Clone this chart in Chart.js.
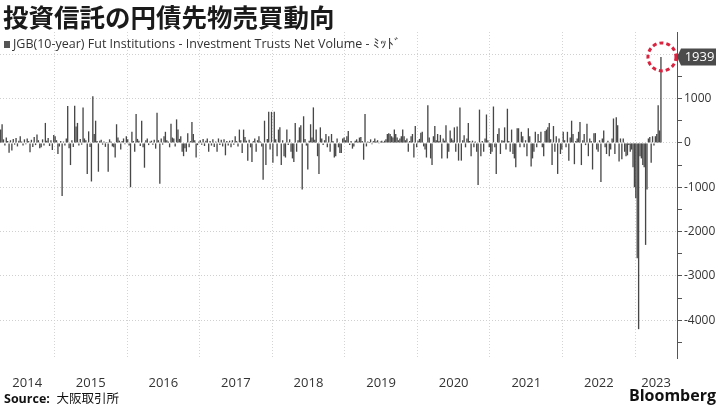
<!DOCTYPE html>
<html>
<head>
<meta charset="utf-8">
<script src="https://cdn.jsdelivr.net/npm/chart.js@4.4.1/dist/chart.umd.min.js"></script>
<style>
  html, body { margin: 0; padding: 0; background: #fff; }
  #wrap { position: relative; width: 720px; height: 405px; overflow: hidden; font-family: 'Open Sans', sans-serif; }
  #chart { position: absolute; left: 0; top: 0; }
  .title { position: absolute; left: 3px; top: -3px; font: 700 25.5px 'Noto Sans CJK JP', sans-serif; color: #1a1a1a; white-space: nowrap; }
  .legend { position: absolute; left: 4px; top: 35px; font-size: 12.5px; color: #333; white-space: nowrap; }
  .legend i { display: inline-block; width: 6px; height: 7px; background: #555; margin-right: 3px; }
  .source { position: absolute; left: 4px; top: 388px; font-size: 12.5px; color: #111; white-space: nowrap; }
  .source b { font-weight: 700; }
  .source span { font-family: 'Noto Sans CJK JP', sans-serif; }
  .brand { position: absolute; right: 4px; top: 384px; font: 700 16px 'Open Sans', sans-serif; color: #111; }
</style>
</head>
<body>
<div id="wrap">
  <canvas id="chart" width="720" height="405"></canvas>
  <div class="title">投資信託の円債先物売買動向</div>
  <div class="legend"><i></i>JGB(10-year) Fut Institutions - Investment Trusts Net Volume - ﾐｯﾄﾞ</div>
  <div class="source"><b>Source:</b>&nbsp; <span>大阪取引所</span></div>
  <div class="brand">Bloomberg</div>
</div>
<script>
// Weekly net volume (contracts)
const vol2014 = [300, 420, 80, -60, 120, 40, -220, 60, -170, 90, -40, 110, -80, 50, 150, 30, -60, 80, -30, 100,
  40, -210, 70, -90, 130, -50, 190, 60, -120, -100, 80, -60, 450, 50, 110, -70, 60, -160, 180];
const vol2015 = [150, 60, -250, -80, 40, -1200, 30, -60, 100, 830, -120, -500, 60, -90, 840, 370, 450, -60, 90, -40,
  800, 100, 60, -700, 260, -90, -870, 1050, 200, 500, 40, -650, 50, 70, -40, 30, -90, 20, -650, 80,
  30, -80, -100, -330, 420, 120, 50, -150, 40, 100, -30, 150];
const vol2016 = [80, -60, -1000, 250, 40, -200, 650, 90, 50, -70, 500, -100, -560, 60, 100, -50, 30, 50, -40, 70,
  -130, 680, 60, -920, 100, -40, 150, 250, 60, 30, -100, 430, 120, 100, -80, 530, 300, 90, 150, -200,
  -300, -120, -200, 220, -100, 40, 470, 200, 60, -330, -50, 30];
const vol2017 = [60, -40, 90, -70, 50, 100, -200, 40, -60, 80, -90, 30, -200, 100, -50, 70, -80, 80, -280, 40,
  -60, 50, -100, 60, -40, 150, 40, -80, 300, 60, -230, 300, 130, 50, -400, 70, -100, -430, 40, 100,
  -200, 60, 150, 30, -80, -830, 500, -500, 90, 700, -150, 700];
const vol2018 = [-450, 700, 80, -300, 300, 350, -500, 60, -300, -330, 300, -50, 80, -200, -350, -430, 450, -200, 60, 350,
  400, -1050, 600, 90, -60, -600, 50, 420, 120, 800, 70, 300, -300, -700, 350, 100, -50, 60, 200, -100,
  150, -200, 200, 40, -330, -300, 100, -100, -230, -230, 100, 120];
const vol2019 = [60, 150, 270, -50, 40, -130, -80, 50, 80, 30, 120, 130, 40, -380, 650, -80, 30, 20, 80, -30,
  40, 100, 30, 60, -20, 30, 50, 20, 50, 80, 200, 220, 200, 150, 120, 300, 200, 120, 60, 100,
  150, 300, 150, 60, 100, -200, 40, 150, 200, -330, 380, -100];
const vol2020 = [50, 90, 230, 250, -80, -150, -330, 850, 120, -350, -500, 150, 380, 60, 200, 40, 180, -350, 100, 50,
  400, -350, -200, 280, 100, 60, 350, -200, 370, -400, 800, -400, 60, 170, -100, 100, 450, 40, -300, 50,
  -100, 30, -200, -950, 750, -300, 40, -200, 100, 640, 60, -100];
const vol2021 = [-250, -200, 820, -100, -700, 200, 330, -250, 60, 50, 350, -150, 770, 40, -200, 300, -250, -350, -550, 330,
  330, -100, 250, 150, -100, 60, -300, 330, 150, -530, -350, -200, 250, -100, 200, 40, 250, -100, -300, 270,
  300, 350, 450, 80, -500, 380, -200, 150, -700, 100, -250, -150];
const vol2022 = [250, 60, -100, 250, -400, 120, 500, 200, -480, 40, 100, 250, 470, -500, 60, 200, -50, 430, -300, 100,
  40, -600, 220, 220, -150, -200, 60, -880, 100, 280, -100, -250, 50, -300, -150, 100, 550, -250, 580, 400,
  -420, 100, -370, 100, -200, -300, -280, -50, -200, -150, -550, -1000];
const vol2023 = [-1250, -2600, -4200, -300, -350, -500, -550, -2300, -1050, 100, 130, -450, 150, -60, 150, 200, 850, 280, 1939];

const yearLabels = ['2014', '2015', '2016', '2017', '2018', '2019', '2020', '2021', '2022', '2023'];
const yearSeries = [vol2014, vol2015, vol2016, vol2017, vol2018, vol2019, vol2020, vol2021, vol2022, vol2023];
const yTicks = [-4500, -4000, -3500, -3000, -2500, -2000, -1500, -1000, -500, 0, 500, 1000, 1500, 2000];

const volume = [].concat(...yearSeries);
const latestValue = volume[volume.length - 1];

// index where each year begins, used for the year gridlines and labels
const yearStarts = [];
let acc = 0;
yearSeries.forEach(s => { yearStarts.push(acc - 0.5); acc += s.length; });
const xMin = -0.5;
const xMax = volume.length + 10.5;
const yearEdges = yearStarts.concat([xMax]);
const yearMids = yearLabels.map((_, i) => (Math.max(yearEdges[i], xMin) + yearEdges[i + 1]) / 2);

// drop the label padding chart.js reserves so the plot runs edge to edge
function noPad(axis) {
    axis.paddingLeft = 0;
    axis.paddingRight = 0;
    axis.paddingTop = 0;
    axis.paddingBottom = 0;
}

const markerPlugin = {
    id: 'marker',
    afterDraw(chart) {
        const { ctx, chartArea, scales: { x, y } } = chart;
        const px = x.getPixelForValue(volume.length - 1);
        const py = y.getPixelForValue(latestValue);

        ctx.save();
        // dashed red ring on latest bar
        ctx.strokeStyle = '#d9233f';
        ctx.lineWidth = 3;
        ctx.setLineDash([4, 3]);
        ctx.beginPath();
        ctx.arc(px + 1, py, 14, 0, Math.PI * 2);
        ctx.stroke();

        // last value tag on the axis
        ctx.setLineDash([]);
        const bx = chartArea.right + 4;
        const br = 716;
        ctx.fillStyle = '#4b4b4b';
        ctx.beginPath();
        ctx.moveTo(chartArea.right, py);
        ctx.lineTo(bx, py - 8.5);
        ctx.lineTo(br, py - 8.5);
        ctx.lineTo(br, py + 8.5);
        ctx.lineTo(bx, py + 8.5);
        ctx.closePath();
        ctx.fill();
        ctx.fillStyle = '#fff';
        ctx.font = '13px "Open Sans"';
        ctx.textAlign = 'center';
        ctx.textBaseline = 'middle';
        ctx.fillText(String(latestValue), (bx + br) / 2 + 1, py + 0.5);
        ctx.restore();
    }
};

new Chart(document.getElementById('chart'), {
    type: 'bar',
    data: {
        datasets: [{
            data: volume.map((v, i) => ({ x: i, y: v })),
            backgroundColor: '#474747',
            borderWidth: 0,
            barPercentage: 0.95,
            categoryPercentage: 1,
            xAxisID: 'x',
            yAxisID: 'y'
        }]
    },
    options: {
        responsive: false,
        animation: false,
        layout: { padding: { top: 32, left: 0, right: 0, bottom: 0 } },
        plugins: {
            legend: { display: false },
            tooltip: { enabled: false }
        },
        scales: {
            x: {
                type: 'linear',
                position: 'bottom',
                offset: false,
                min: xMin,
                max: xMax,
                afterBuildTicks: axis => { axis.ticks = yearStarts.slice(1).map(v => ({ value: v })); },
                afterFit: axis => { axis.height = 0; noPad(axis); },
                ticks: { display: false },
                grid: { color: '#d4d4d4', drawTicks: false, offset: false },
                border: { display: false, dash: [1, 2] }
            },
            years: {
                type: 'linear',
                position: 'bottom',
                offset: false,
                min: xMin,
                max: xMax,
                afterBuildTicks: axis => { axis.ticks = yearMids.map(v => ({ value: v })); },
                afterFit: axis => { axis.height = 47; noPad(axis); },
                ticks: {
                    autoSkip: false,
                    maxRotation: 0,
                    padding: 9,
                    color: '#333',
                    font: { family: 'Open Sans', size: 13 },
                    callback: (value, index) => yearLabels[index]
                },
                grid: { display: false },
                border: { display: false }
            },
            y: {
                position: 'right',
                min: -4850,
                max: 2500,
                afterBuildTicks: axis => { axis.ticks = yTicks.map(v => ({ value: v })); },
                afterFit: axis => { axis.width = 43; noPad(axis); },
                ticks: {
                    autoSkip: false,
                    padding: 2,
                    color: '#333',
                    font: { family: 'Open Sans', size: 12 },
                    callback: value => (value % 1000 === 0 ? value : '')
                },
                grid: {
                    color: ctx => (ctx.tick && ctx.tick.value % 1000 === 0 ? '#d0d0d0' : 'rgba(0,0,0,0)'),
                    tickColor: '#555',
                    tickLength: 5,
                    tickBorderDash: []
                },
                border: { display: true, color: '#555', width: 1, dash: [1, 2] }
            }
        }
    },
    plugins: [markerPlugin]
});
</script>
</body>
</html>
